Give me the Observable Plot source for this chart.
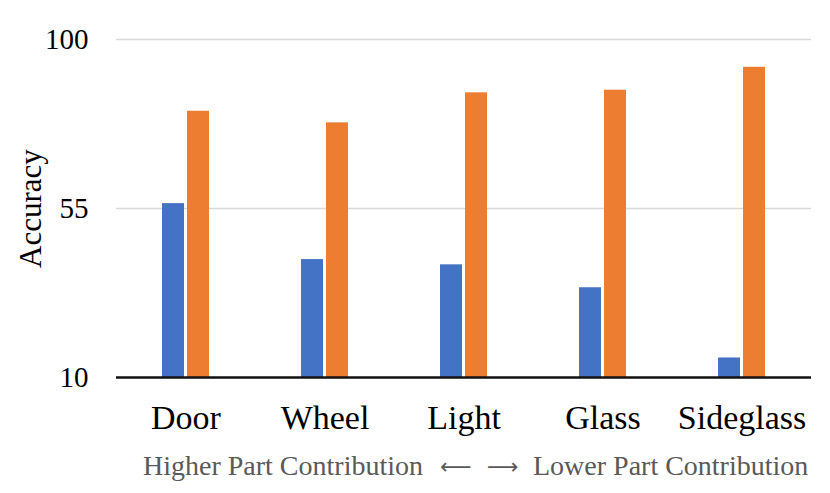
<!DOCTYPE html>
<html>
<head>
<meta charset="utf-8">
<script src="https://cdn.jsdelivr.net/npm/d3@7"></script>
<script src="https://cdn.jsdelivr.net/npm/@observablehq/plot@0.6"></script>
<style>
  html, body { margin: 0; padding: 0; background: #fff; }
  #chart { width: 830px; height: 440px; }
  #caption {
    font-family: "Liberation Serif", "Times New Roman", serif;
    font-size: 28px;
    color: #595959;
    white-space: nowrap;
    margin-left: 143px;
    margin-top: 10px;
    line-height: 32px;
  }
  #caption .arrow {
    display: inline-block;
    width: 28px;
    text-align: center;
    font-family: "DejaVu Sans", sans-serif;
    font-size: 22px;
    vertical-align: 1px;
  }
  #caption .a1 { margin: 0 19px 0 17px; }
  #caption .a2 { margin: 0 18px 0 0; }
</style>
</head>
<body>
<div id="chart"></div>
<div id="caption">Higher Part Contribution<span class="arrow a1">⟵</span><span class="arrow a2">⟶</span>Lower Part Contribution</div>
<script>
const categories = ["Door", "Wheel", "Light", "Glass", "Sideglass"];
const seriesNames = ["Series 1", "Series 2"];
const series1 = [56.3, 41.4, 40.0, 33.9, 15.2];
const series2 = [80.9, 77.8, 85.8, 86.5, 92.6];
const yTicks = [10, 55, 100];
const colors = ["#4472C4", "#ED7D31"];

const yMin = yTicks[0], yMax = yTicks[yTicks.length - 1];
const rows = [];
categories.forEach((c, i) => {
  rows.push({category: c, series: seriesNames[0], value: series1[i]});
  rows.push({category: c, series: seriesNames[1], value: series2[i]});
});

const chart = Plot.plot({
  width: 830,
  height: 440,
  marginLeft: 114,
  marginRight: 17,
  marginTop: 39,
  marginBottom: 63,
  style: {fontFamily: "'Liberation Serif', 'Times New Roman', serif", background: "#fff", color: "#000"},
  fx: {domain: categories, padding: 0},
  x: {domain: seriesNames, paddingInner: 0.12, paddingOuter: 1.8, axis: null},
  y: {domain: [yMin, yMax]},
  color: {domain: seriesNames, range: colors},
  marks: [
    Plot.gridY(yTicks.slice(1), {stroke: "#d9d9d9", strokeOpacity: 1, strokeWidth: 1.5}),
    Plot.barY(rows, {fx: "category", x: "series", y1: yMin, y2: "value", fill: "series"}),
    Plot.ruleY([yMin], {stroke: "#111", strokeWidth: 2.5}),
    Plot.axisY(yTicks, {anchor: "left", tickSize: 0, tickPadding: 28, fontSize: 29, label: null}),
    Plot.axisY([], {anchor: "left", tickSize: 0, fontSize: 31, label: "Accuracy", labelAnchor: "center", labelArrow: "none", labelOffset: 98}),
    Plot.axisFx({anchor: "bottom", tickSize: 0, tickPadding: 27, fontSize: 34, label: null})
  ]
});
document.getElementById("chart").appendChild(chart);
</script>
</body>
</html>
